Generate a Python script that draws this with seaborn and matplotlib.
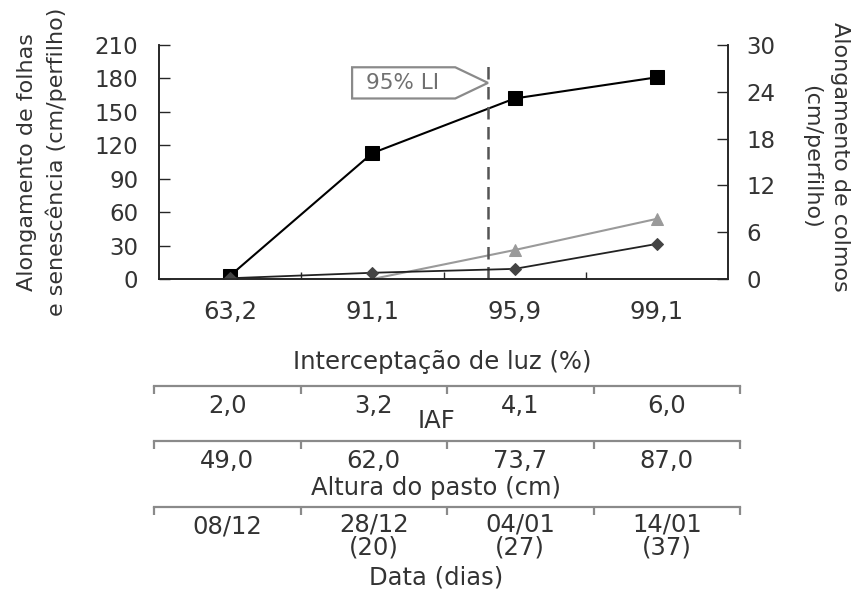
import numpy as np
import pandas as pd
import matplotlib.pyplot as plt
import seaborn as sns
from matplotlib.patches import Polygon

# dados
interceptacao = ['63,2', '91,1', '95,9', '99,1']
along_folhas = [3.0, 113.0, 162.0, 181.0]
senescencia = [0.0, 0.0, 26.0, 54.0]
along_colmos = [0.1, 0.8, 1.3, 4.5]
iaf = ['2,0', '3,2', '4,1', '6,0']
altura = ['49,0', '62,0', '73,7', '87,0']
datas = ['08/12', '28/12\n(20)', '04/01\n(27)', '14/01\n(37)']
li_valores = [63.2, 91.1, 95.9, 99.1]

sns.set_style('ticks')
plt.rcParams['font.family'] = ['DejaVu Sans']
cinza_txt = '#333333'
fs = 17.5     # textos horizontais
fs_y = 16     # ticks e rótulos verticais

df = pd.DataFrame({'li': interceptacao, 'folhas': along_folhas,
                   'sen': senescencia, 'colmos': along_colmos})

fig = plt.figure(figsize=(8.58, 5.92), dpi=100)
ax = fig.add_axes([0.1853, 0.5287, 0.6632, 0.3953])
ax2 = ax.twinx()

sns.lineplot(data=df, x='li', y='folhas', ax=ax, color='black', lw=1.5,
             marker='s', markersize=9.5, markeredgecolor='black', sort=False)
sns.lineplot(data=df, x='li', y='sen', ax=ax, color='#9a9a9a', lw=1.5,
             marker='^', markersize=8, markeredgecolor='#9a9a9a', sort=False)
sns.lineplot(data=df, x='li', y='colmos', ax=ax2, color='#222222', lw=1.3,
             marker='D', markersize=6, markerfacecolor='#444444',
             markeredgecolor='#444444', sort=False)

ax.set_xlim(-0.5, 3.5)
ax.set_ylim(0, 210)
ax.set_yticks(np.arange(0, 211, 30))
ax2.set_ylim(0, 30)
ax2.set_yticks(np.arange(0, 31, 6))
ax.set_xlabel('')
ax.set_ylabel('')
ax2.set_ylabel('')
ax.set_xticks(range(4))
ax.set_xticklabels(interceptacao)
ax.set_xticks([0.5, 1.5, 2.5], minor=True)
ax.tick_params(axis='x', which='major', length=0, pad=15, labelsize=fs, labelcolor=cinza_txt)
ax.tick_params(axis='x', which='minor', direction='in', length=5, width=1)
ax.tick_params(axis='y', direction='in', length=8, width=1, labelsize=fs_y + 0.5,
               labelcolor=cinza_txt, pad=15)
ax2.tick_params(axis='y', direction='in', length=8, width=1, labelsize=fs_y + 0.5,
                labelcolor=cinza_txt, pad=13)
for a in (ax, ax2):
    a.spines['top'].set_visible(False)
    for s in ('left', 'right', 'bottom'):
        a.spines[s].set_linewidth(1.2)
    a.grid(False)

# linha de 95% de interceptação de luz
x95 = 1 + (95 - li_valores[1]) / (li_valores[2] - li_valores[1])
ax.vlines(x95, 0, 193, colors='#555555', linestyles=(0, (5, 3)), lw=1.8)
seta = Polygon([(x95 - 0.955, 190), (x95 - 0.23, 190), (x95, 176),
                (x95 - 0.23, 162), (x95 - 0.955, 162)],
               closed=True, fc='white', ec='#8a8a8a', lw=1.6, zorder=3)
ax.add_patch(seta)
ax.text(x95 - 0.6, 176, '95% LI', fontsize=15.5, color='#707070', ha='center',
        va='center', zorder=4)

fig.text(442 / 858, 1 - 362 / 592, 'Interceptação de luz (%)', fontsize=fs,
         color=cinza_txt, ha='center', va='center')
fig.text(42 / 858, 1 - 162 / 592, 'Alongamento de folhas\ne senescência (cm/perfilho)',
         fontsize=fs_y, color=cinza_txt, rotation=90, ha='center', va='center',
         multialignment='center', linespacing=1.5)
fig.text(826 / 858, 1 - 157 / 592, 'Alongamento de colmos\n(cm/perfilho)',
         fontsize=fs_y, color=cinza_txt, rotation=270, ha='center', va='center',
         multialignment='center', linespacing=1.55)

# tabela abaixo do gráfico
linhas = [(386, iaf), (441, altura), (507, datas)]
for y_px, valores in linhas:
    tab = fig.add_axes([154 / 858, 1 - (y_px + 60) / 592, 586 / 858, 60 / 592])
    tab.set_xlim(0, 4)
    tab.set_ylim(60, 0)
    for s in ('left', 'right', 'bottom'):
        tab.spines[s].set_visible(False)
    tab.spines['top'].set_color('#8a8a8a')
    tab.spines['top'].set_linewidth(1.6)
    tab.xaxis.tick_top()
    tab.set_xticks(range(5))
    tab.set_xticklabels([])
    tab.tick_params(axis='x', direction='in', length=6, width=1.6, color='#8a8a8a')
    tab.set_yticks([])
    tab.patch.set_alpha(0)
    for i, v in enumerate(valores):
        if '\n' in v:
            tab.text(i + 0.5, 5, v, fontsize=fs, color=cinza_txt, ha='center', va='top',
                     linespacing=0.95)
        else:
            tab.text(i + 0.5, 20, v, fontsize=fs, color=cinza_txt, ha='center', va='center')

fig.text(436 / 858, 1 - 421 / 592, 'IAF', fontsize=fs, color=cinza_txt, ha='center', va='center')
fig.text(436 / 858, 1 - 488 / 592, 'Altura do pasto (cm)', fontsize=fs, color=cinza_txt,
         ha='center', va='center')
fig.text(436 / 858, 1 - 577 / 592, 'Data (dias)', fontsize=fs, color=cinza_txt,
         ha='center', va='center')

fig.savefig('out.png', dpi=100)
